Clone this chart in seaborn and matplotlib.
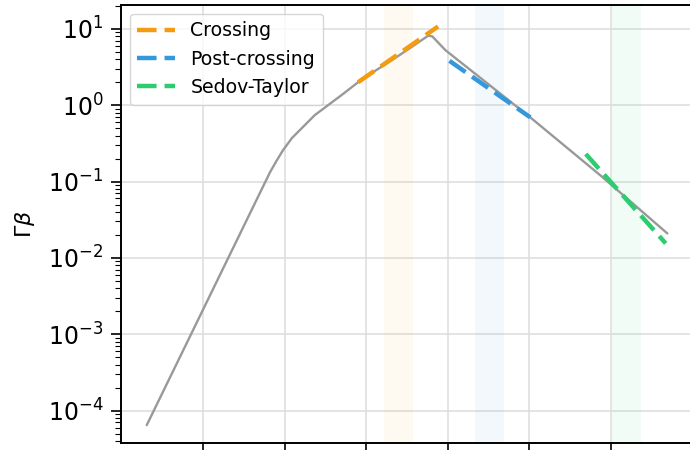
import numpy as np
import pandas as pd
import seaborn as sns
import matplotlib.pyplot as plt

# x in log10(time), y = log10(Gamma*beta)
curve_logt = [0.31, 1.82, 1.90, 1.98, 2.09, 2.23, 2.37, 2.52, 2.72, 2.90, 3.11, 3.33,
              3.54, 3.76, 3.81, 3.97, 5.01, 5.87, 6.69]
curve_logy = [-4.19, -0.88, -0.73, -0.59, -0.43, -0.28, -0.13, -0.01, 0.15, 0.30, 0.45, 0.60,
              0.75, 0.91, 0.90, 0.72, -0.16, -0.92, -1.68]

fit_names = ["Crossing", "Post-crossing", "Sedov-Taylor"]
fit_logt = [[2.90, 3.88], [4.02, 5.01], [5.69, 6.67]]
fit_logy = [[0.30, 1.03], [0.58, -0.16], [-0.64, -1.81]]
fit_colors = ["#f39c12", "#3498db", "#2ecc71"]
bands = [(3.22, 3.57), (4.33, 4.69), (6.01, 6.37)]

sns.set_theme(style="ticks")
plt.rcParams['font.family'] = ['DejaVu Sans']

fig = plt.figure(figsize=(6.9, 4.5), dpi=100)
ax = fig.add_axes([0.176, 0.0156, 0.8243, 0.973])

curve = pd.DataFrame({'t': curve_logt, 'gb': 10 ** np.array(curve_logy)})
sns.lineplot(data=curve, x='t', y='gb', color='#999999', lw=1.7, ax=ax, zorder=3)

for (lo, hi), c in zip(bands, fit_colors):
    ax.axvspan(lo, hi, color=c, alpha=0.06, lw=0, zorder=1)

for name, xs, ys, c in zip(fit_names, fit_logt, fit_logy, fit_colors):
    d = pd.DataFrame({'t': xs, 'gb': 10 ** np.array(ys)})
    sns.lineplot(data=d, x='t', y='gb', color=c, lw=3.2, ls=(0, (4.4, 1.8)), label=name, ax=ax, zorder=4)

ax.set_yscale('log')
ax.set_xlim(0, 6.97)
ax.set_ylim(3.77e-5, 20.4)
ax.set_xticks([1, 2, 3, 4, 5, 6])
ax.set_xticklabels([])
ax.set_xlabel('')
ax.set_ylabel(r'$\Gamma\beta$', fontsize=16, color='black', labelpad=8)
ax.tick_params(axis='both', which='major', labelsize=17, length=7, width=1.2, pad=6,
               color='black', labelcolor='black')
ax.tick_params(axis='y', which='minor', length=4, width=0.8, color='black')
ax.grid(True, which='major', color='#dddddd', lw=1.1, zorder=0)
ax.set_axisbelow(True)
for s in ['left', 'bottom', 'top']:
    ax.spines[s].set_color('black')
    ax.spines[s].set_linewidth(1.4)
ax.spines['right'].set_visible(False)

leg = ax.legend(loc='upper left', fontsize=13.6, frameon=True, handlelength=2.0, borderaxespad=0.45)
for t in leg.get_texts():
    t.set_color('black')

fig.savefig('out.png', dpi=100)
